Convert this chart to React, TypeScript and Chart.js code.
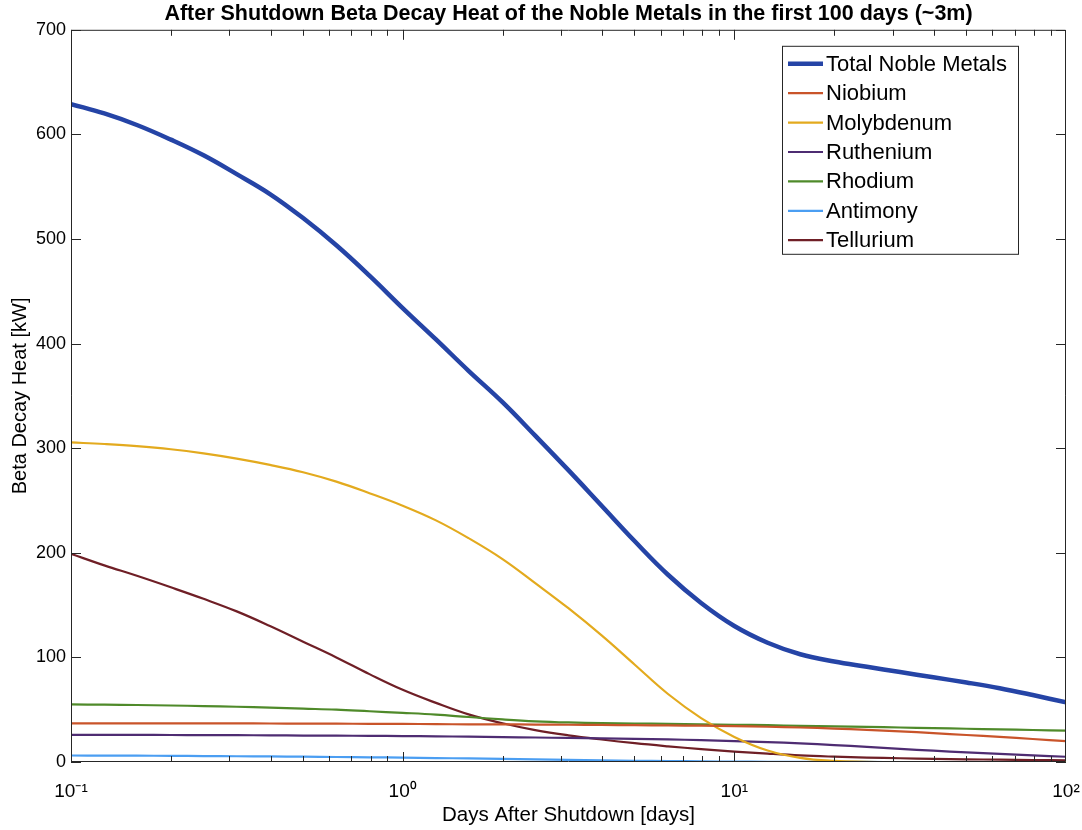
import React, { useEffect, useRef } from "react";
import { Chart, registerables } from "chart.js";

Chart.register(...registerables);

// ---- data ----
const days = [
  0.1, 0.126, 0.158, 0.2, 0.251, 0.316, 0.398, 0.501, 0.631, 0.794,
  1, 1.26, 1.58, 2, 2.51, 3.16, 3.98, 5.01, 6.31, 7.94,
  10, 12.6, 15.8, 20, 25.1, 31.6, 39.8, 50.1, 63.1, 79.4, 100,
];
const totalNoble = [
  629, 620, 609, 595, 580, 562, 543, 520, 494, 465,
  434, 404, 374, 344, 312, 279, 245, 211, 179, 152,
  130, 114, 103, 96, 91, 86, 81, 76, 70.5, 64, 57,
];
const niobium = [
  37, 37, 37, 37, 37, 37, 36.8, 36.7, 36.6, 36.5,
  36.4, 36.2, 36, 36, 35.8, 35.6, 35.4, 35.2, 35, 34.7,
  34.3, 33.7, 33, 32, 30.8, 29.3, 27.6, 25.8, 24, 22, 20,
];
const molybdenum = [
  305.5, 304, 302, 299, 295, 290, 284, 277, 268, 257,
  245, 231, 214, 194, 171, 147, 121, 93, 65, 42,
  24, 11, 4, 1, 0.2, 0, 0, 0, 0, 0, 0,
];
const ruthenium = [
  26, 26, 25.9, 25.8, 25.7, 25.6, 25.5, 25.3, 25.2, 25,
  24.8, 24.5, 24.2, 23.8, 23.4, 23, 22.6, 22.2, 21.6, 20.9,
  20, 19, 17.8, 16.2, 14.5, 12.6, 10.8, 9.2, 7.7, 6.3, 5,
];
const rhodium = [
  55, 54.8, 54.5, 54, 53.5, 52.8, 52, 51, 50, 48.5,
  47, 45.3, 43, 40.7, 38.9, 37.8, 37.2, 36.8, 36.4, 36,
  35.6, 35.2, 34.6, 34, 33.5, 33, 32.4, 31.8, 31.2, 30.6, 30,
];
const antimony = [
  6.2, 6.1, 6, 5.9, 5.7, 5.5, 5.3, 5.1, 4.8, 4.5,
  4.2, 3.8, 3.4, 3, 2.5, 2, 1.6, 1.2, 0.9, 0.6,
  0.4, 0.25, 0.15, 0.1, 0.05, 0, 0, 0, 0, 0, 0,
];
const tellurium = [
  199, 188, 178, 167, 156, 144, 130, 115, 100, 84,
  69, 56.5, 45.5, 37, 30.5, 25.5, 21.5, 18, 15, 12.3,
  10, 8, 6.3, 5.1, 4.2, 3.6, 3, 2.6, 2.2, 1.9, 1.6,
];

const seriesNames = ["Total Noble Metals", "Niobium", "Molybdenum", "Ruthenium", "Rhodium", "Antimony", "Tellurium"];
const seriesValues = [totalNoble, niobium, molybdenum, ruthenium, rhodium, antimony, tellurium];
const seriesColors = ["#2544a6", "#c9542a", "#e3aa1e", "#4e2c72", "#4f8a2a", "#4b9ef2", "#6f1f26"];
const seriesWidths = [4.5, 2.2, 2.2, 2.2, 2.2, 2.2, 2.2];

const xTickValues = [0.1, 1, 10, 100];
const xTickLabels = ["10\u207B\u00B9", "10\u2070", "10\u00B9", "10\u00B2"];
const yTickValues = [0, 100, 200, 300, 400, 500, 600, 700];

const FONT = "'Liberation Sans', Arial, Helvetica, sans-serif";
const AXIS_COLOR = "#262626";

const framePlugin = {
  id: "matlabFrame",
  afterDatasetsDraw(chart: any) {
    const { ctx, chartArea } = chart;
    const xs = chart.scales.x;
    const ys = chart.scales.y;
    const { left, right, top, bottom } = chartArea;
    ctx.save();
    ctx.strokeStyle = AXIS_COLOR;
    ctx.lineWidth = 1;
    ctx.beginPath();
    ctx.rect(left + 0.5, top + 0.5, right - left - 1, bottom - top - 1);
    ctx.stroke();
    ctx.beginPath();
    for (let d = 0; d < xTickValues.length - 1; d++) {
      const base = xTickValues[d];
      for (let k = 1; k <= 9; k++) {
        const v = base * k;
        const px = Math.round(xs.getPixelForValue(v)) + 0.5;
        const len = k === 1 ? 10 : 6;
        ctx.moveTo(px, bottom);
        ctx.lineTo(px, bottom - len);
        ctx.moveTo(px, top);
        ctx.lineTo(px, top + len);
      }
    }
    yTickValues.forEach((v) => {
      const py = Math.round(ys.getPixelForValue(v)) + 0.5;
      ctx.moveTo(left, py);
      ctx.lineTo(left + 10, py);
      ctx.moveTo(right, py);
      ctx.lineTo(right - 10, py);
    });
    ctx.stroke();
    ctx.restore();
  },
  afterDraw(chart: any) {
    const { ctx, chartArea } = chart;
    const boxRight = chartArea.right - 48;
    const boxW = 236;
    const boxL = boxRight - boxW;
    const boxT = chartArea.top + 16;
    const rowH = 29.4;
    const boxH = 208;
    ctx.save();
    ctx.fillStyle = "#ffffff";
    ctx.fillRect(boxL, boxT, boxW, boxH);
    ctx.strokeStyle = AXIS_COLOR;
    ctx.lineWidth = 1;
    ctx.strokeRect(boxL + 0.5, boxT + 0.5, boxW, boxH);
    ctx.font = `22px ${FONT}`;
    ctx.textBaseline = "middle";
    ctx.textAlign = "left";
    chart.data.datasets.forEach((ds: any, i: number) => {
      const cy = boxT + 18 + i * rowH;
      ctx.strokeStyle = ds.borderColor;
      ctx.lineWidth = ds.borderWidth;
      ctx.beginPath();
      ctx.moveTo(boxL + 6, cy);
      ctx.lineTo(boxL + 41, cy);
      ctx.stroke();
      ctx.fillStyle = "#000";
      ctx.fillText(ds.label, boxL + 44, cy + 1);
    });
    ctx.restore();
  },
};

export default function App() {
  const ref = useRef<HTMLCanvasElement>(null);
  useEffect(() => {
    const canvas = ref.current;
    if (!canvas) return;
    const datasets = seriesNames.map((name, i) => ({
      label: name,
      data: days.map((d, j) => ({ x: d, y: seriesValues[i][j] })),
      borderColor: seriesColors[i],
      backgroundColor: seriesColors[i],
      borderWidth: seriesWidths[i],
      pointRadius: 0,
      tension: 0.4,
      fill: false,
    }));
    const chart = new Chart(canvas, {
      type: "line",
      data: { datasets },
      plugins: [framePlugin],
      options: {
        animation: false,
        responsive: false,
        devicePixelRatio: 1,
        layout: { padding: { left: 0, right: 16, top: 0, bottom: 0 } },
        plugins: {
          legend: { display: false },
          tooltip: { enabled: false },
          title: {
            display: true,
            fullSize: false,
            text: "After Shutdown Beta Decay Heat of the Noble Metals in the first 100 days (~3m)",
            color: "#000",
            font: { family: FONT, size: 21.5, weight: "bold" },
            padding: { top: 1, bottom: 3 },
          },
        },
        scales: {
          x: {
            type: "logarithmic",
            min: 0.1,
            max: 100,
            grid: { display: false, drawTicks: false },
            border: { display: false },
            afterBuildTicks: (scale: any) => {
              scale.ticks = xTickValues.map((v) => ({ value: v }));
            },
            afterFit: (scale: any) => {
              scale.height = 68;
              scale.paddingLeft = 0;
              scale.paddingRight = 0;
            },
            ticks: {
              autoSkip: false,
              maxRotation: 0,
              padding: 18,
              color: "#000",
              font: { family: FONT, size: 19 },
              callback: (value: any) => {
                const idx = xTickValues.findIndex((v) => Math.abs(v - Number(value)) < 1e-9);
                return idx >= 0 ? xTickLabels[idx] : "";
              },
            },
            title: {
              display: true,
              text: "Days After Shutdown [days]",
              color: "#000",
              font: { family: FONT, size: 20.5 },
              padding: { top: 2, bottom: 2 },
            },
          },
          y: {
            type: "linear",
            min: 0,
            max: 700,
            grid: { display: false, drawTicks: false },
            border: { display: false },
            afterBuildTicks: (scale: any) => {
              scale.ticks = yTickValues.map((v) => ({ value: v }));
            },
            afterFit: (scale: any) => {
              scale.width = 71;
              scale.paddingTop = 0;
              scale.paddingBottom = 0;
            },
            ticks: {
              padding: 5,
              color: "#000",
              font: { family: FONT, size: 18 },
            },
            title: {
              display: true,
              text: "Beta Decay Heat [kW]",
              color: "#000",
              font: { family: FONT, size: 20 },
              padding: { top: 8, bottom: 0 },
            },
          },
        },
      },
    });
    return () => chart.destroy();
  }, []);
  return (
    <div style={{ position: "fixed", left: 0, top: 0, width: 1082, height: 830, background: "#fff" }}>
      <canvas ref={ref} width={1082} height={830} style={{ display: "block", width: 1082, height: 830 }} />
    </div>
  );
}
